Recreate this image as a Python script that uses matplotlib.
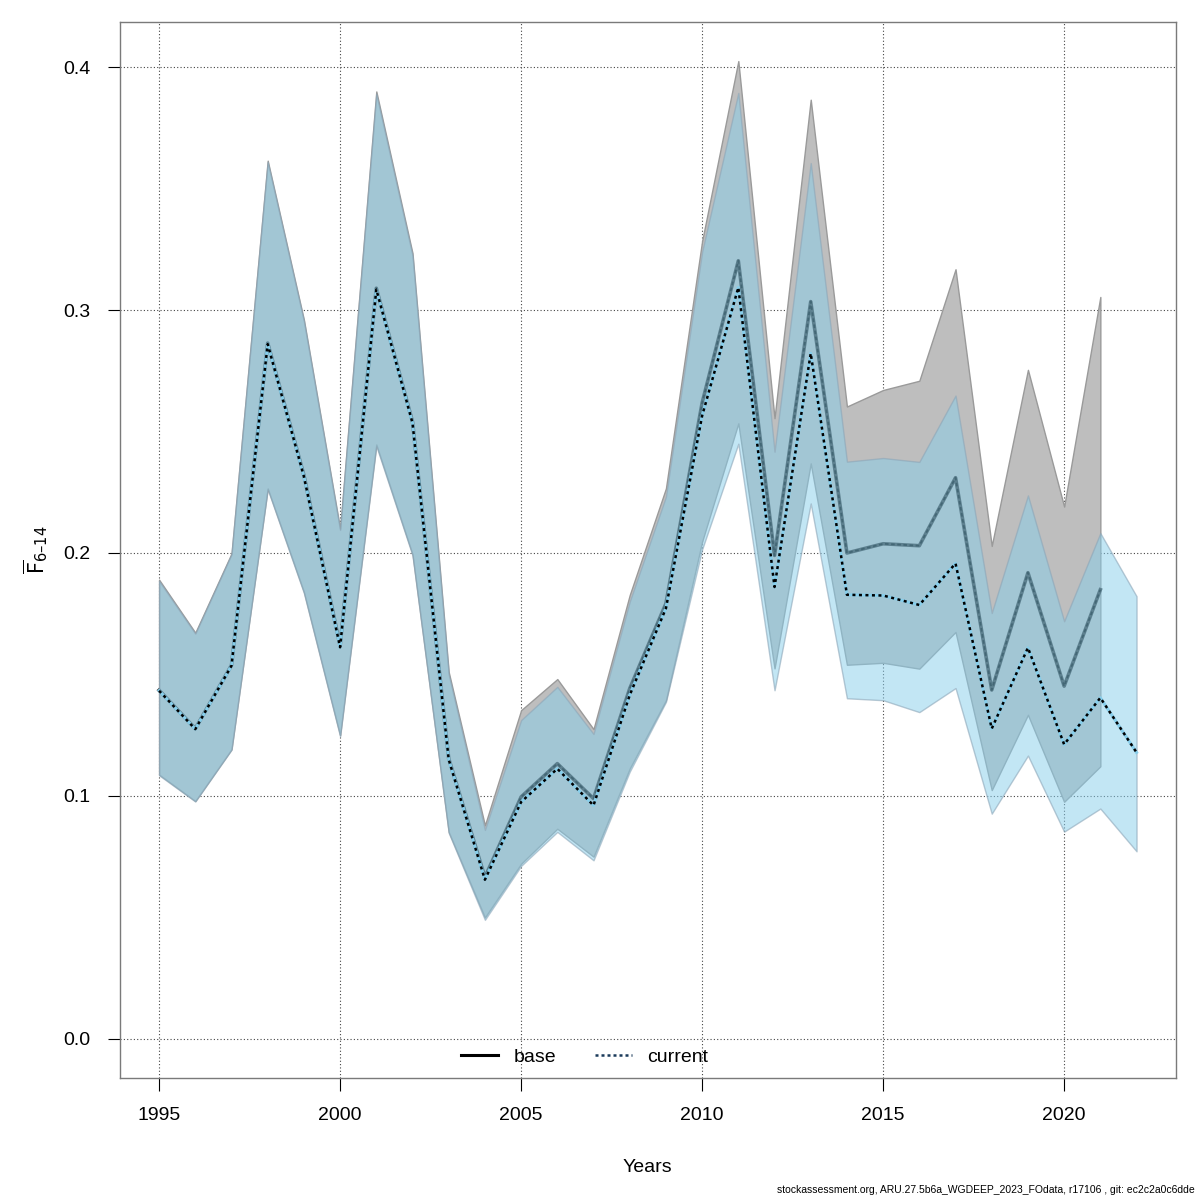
import matplotlib
matplotlib.use("Agg")
import matplotlib.pyplot as plt
from matplotlib.lines import Line2D
import numpy as np

plt.rcParams['font.family'] = ['Liberation Sans', 'DejaVu Sans']

# ---- data ----
years_base = list(range(1995, 2022))
years_cur = list(range(1995, 2023))

base_mid = [0.1435, 0.1277, 0.1538, 0.2864, 0.2320, 0.1618, 0.3090, 0.2540, 0.1154,
            0.0665, 0.0996, 0.1133, 0.0989, 0.1442, 0.1792, 0.2618, 0.3203, 0.1990,
            0.3035, 0.2000, 0.2038, 0.2030, 0.2310, 0.1436, 0.1919, 0.1452, 0.1849]
base_lo = [0.1088, 0.0979, 0.1192, 0.2266, 0.1840, 0.1250, 0.2447, 0.1995, 0.0852,
           0.0500, 0.0721, 0.0865, 0.0750, 0.1113, 0.1394, 0.2047, 0.2534, 0.1525,
           0.2369, 0.1540, 0.1548, 0.1524, 0.1675, 0.1024, 0.1334, 0.0976, 0.1122]
base_hi = [0.1890, 0.1672, 0.1998, 0.3615, 0.2960, 0.2100, 0.3900, 0.3234, 0.1510,
           0.0879, 0.1353, 0.1481, 0.1275, 0.1827, 0.2266, 0.3284, 0.4025, 0.2555,
           0.3866, 0.2603, 0.2671, 0.2709, 0.3168, 0.2029, 0.2754, 0.2191, 0.3054]

cur_mid = [0.1433, 0.1275, 0.1536, 0.2860, 0.2315, 0.1612, 0.3085, 0.2535, 0.1150,
           0.0655, 0.0975, 0.1112, 0.0961, 0.1415, 0.1772, 0.2565, 0.3093, 0.1860,
           0.2822, 0.1828, 0.1825, 0.1786, 0.1957, 0.1277, 0.1610, 0.1212, 0.1404,
           0.1179]
cur_lo = [0.1085, 0.0977, 0.1190, 0.2262, 0.1835, 0.1245, 0.2440, 0.1990, 0.0848,
          0.0490, 0.0712, 0.0852, 0.0735, 0.1100, 0.1387, 0.2015, 0.2450, 0.1435,
          0.2204, 0.1402, 0.1394, 0.1345, 0.1444, 0.0927, 0.1166, 0.0853, 0.0948,
          0.0772]
cur_hi = [0.1885, 0.1668, 0.1995, 0.3610, 0.2955, 0.2095, 0.3890, 0.3225, 0.1500,
          0.0860, 0.1312, 0.1449, 0.1255, 0.1800, 0.2232, 0.3240, 0.3894, 0.2417,
          0.3605, 0.2376, 0.2391, 0.2375, 0.2648, 0.1753, 0.2237, 0.1719, 0.2082,
          0.1822]

legend_labels = ["base", "current"]
xticks = [1995, 2000, 2005, 2010, 2015, 2020]
yticks = [0.0, 0.1, 0.2, 0.3, 0.4]

# ---- figure ----
fig = plt.figure(figsize=(12, 12), dpi=100)
ax = fig.add_axes([0.1, 0.1017, 0.8797, 0.88])

# grid
for xv in xticks:
    ax.axvline(xv, color='#444444', linestyle=(0, (1, 2)), linewidth=0.8, zorder=0)
for yv in yticks:
    ax.axhline(yv, color='#444444', linestyle=(0, (1, 2)), linewidth=0.8, zorder=0)

# base band and line
ax.fill_between(years_base, base_lo, base_hi, facecolor='#BEBEBE',
                edgecolor='#9a9a9a', linewidth=1.0, zorder=1)
ax.plot(years_base, base_mid, color='#333333', linewidth=2.6, zorder=2)
ax.plot(years_base, base_mid, color='#000000', linewidth=1.3,
        linestyle=(0, (2.0, 1.4)), zorder=2)

# current band and line
ax.fill_between(years_cur, cur_lo, cur_hi, facecolor=(135/255, 206/255, 235/255, 0.5),
                edgecolor=(0.55, 0.65, 0.72, 0.6), linewidth=1.0, zorder=3)
ax.plot(years_cur, cur_mid, color='#87CEEB', linewidth=2.2, zorder=4)
ax.plot(years_cur, cur_mid, color='black', linewidth=1.8,
        linestyle=(0, (1.2, 1.4)), zorder=5)

ax.set_xlim(1993.92, 2023.08)
ax.set_ylim(-0.0161, 0.4186)

ax.set_xticks(xticks)
ax.set_xticklabels([str(x) for x in xticks])
ax.set_yticks(yticks)
ax.set_yticklabels([f"{y:.1f}" for y in yticks])
ax.tick_params(axis='both', direction='out', length=9, width=0.8,
               labelsize=14, colors='black', pad=12)

for sp in ax.spines.values():
    sp.set_color('#7a7a7a')
    sp.set_linewidth(1.0)

ax.set_xlabel("Years", fontsize=14, labelpad=25)
ax.set_ylabel('$\\overline{\\mathrm{F}}_{\\mathrm{6\u201314}}$', fontsize=15, labelpad=10)

handles = [Line2D([0], [0], color='black', linewidth=2.2),
           Line2D([0], [0], color='#1a3a5a', linewidth=1.8, linestyle=(0, (1.2, 1.2)))]
ax.legend(handles, legend_labels, loc='lower center', bbox_to_anchor=(0.44, -0.005),
          ncol=2, frameon=False, fontsize=14, handlelength=1.9, handletextpad=0.8,
          columnspacing=2.0)

fig.text(0.996, 0.004,
         "stockassessment.org, ARU.27.5b6a_WGDEEP_2023_FOdata, r17106 , git: ec2c2a0c6dde",
         ha='right', va='bottom', fontsize=7.5)

fig.savefig("out.png", dpi=100)
